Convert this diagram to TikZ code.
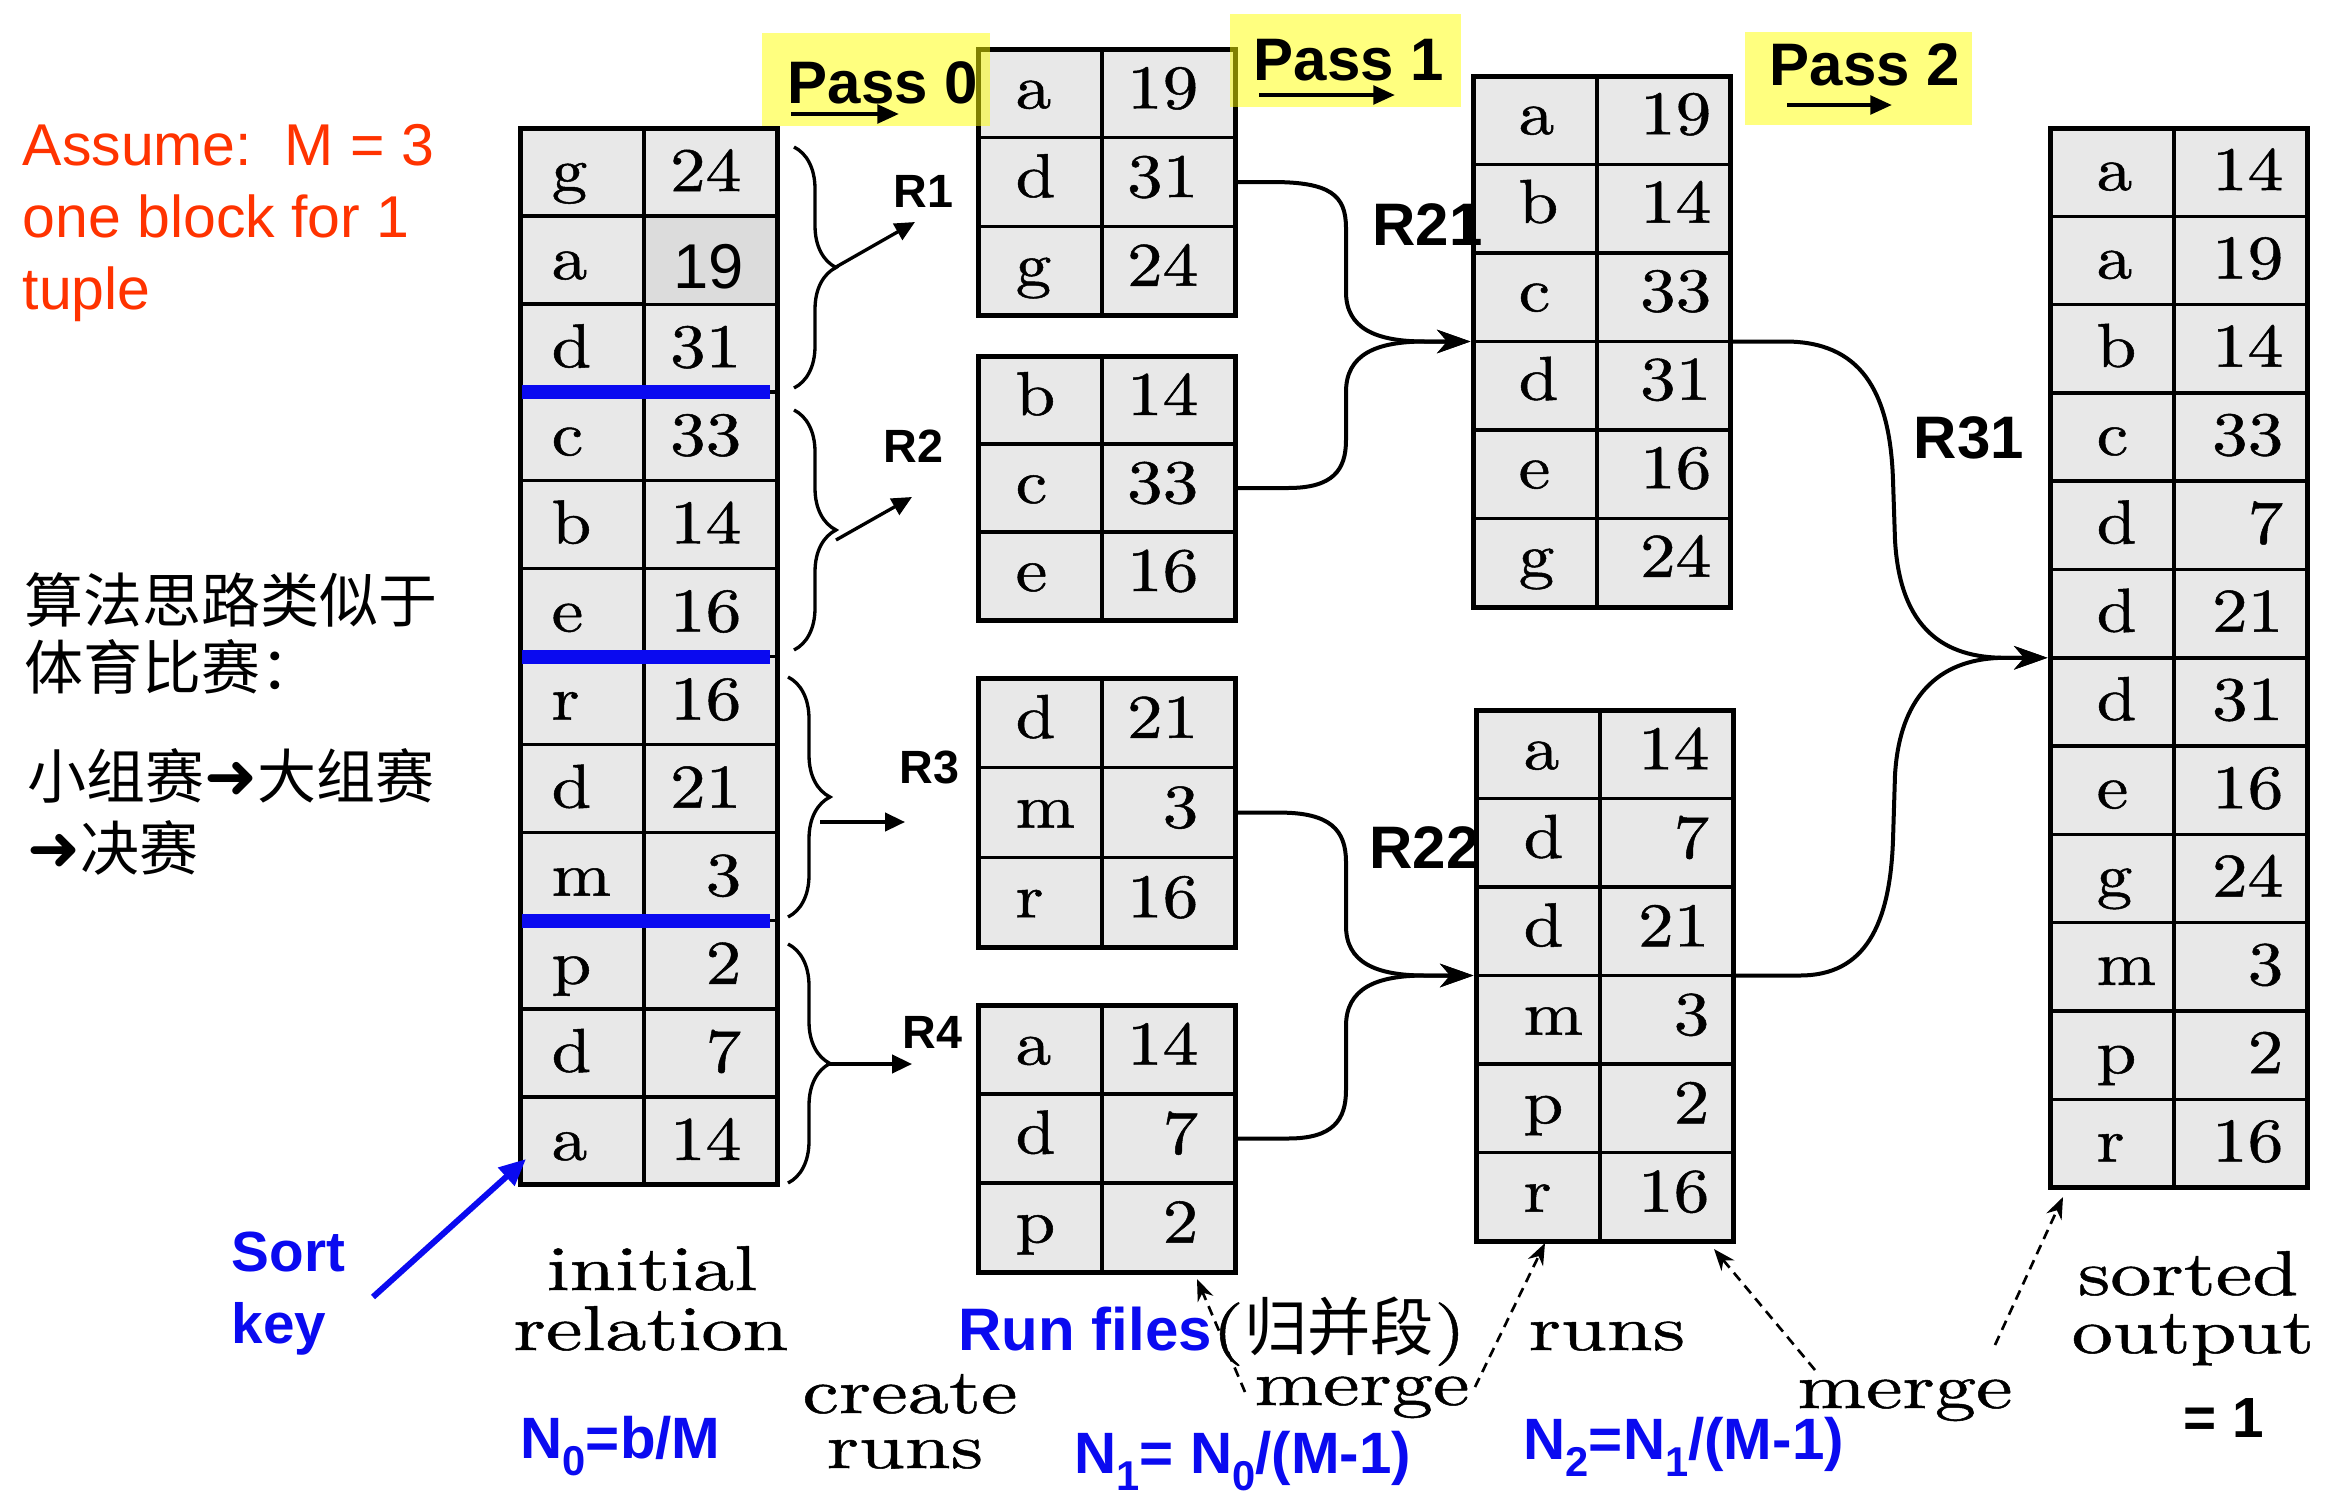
\documentclass[tikz,border=0pt]{standalone}
\usepackage{fontspec}
\usetikzlibrary{arrows.meta,decorations.pathreplacing,fit}
\newfontfamily\tabfont{lmroman10-regular.otf}[FakeStretch=1.15,FakeBold=0.8]
\newfontfamily\labfont{lmroman10-regular.otf}[FakeStretch=1.3,FakeBold=0.8]
\newfontfamily\arialfont{Liberation Sans}
\newfontfamily\cjk{Noto Sans CJK SC}
\newfontfamily\djv{DejaVu Sans}
\definecolor{cellgray}{RGB}{232,232,232}
\definecolor{cellgrayb}{RGB}{220,220,220}
\definecolor{myred}{RGB}{255,51,0}
\definecolor{myblue}{RGB}{10,10,240}
\definecolor{passyellow}{RGB}{255,255,0}
\newcommand\subs[1]{\raisebox{-0.3em}{\fontsize{12.5}{12}\selectfont #1}}
\newcommand\harr{{\djv\fontsize{19}{20}\selectfont ➜}}
% name, left x, top y, row height, letter pad, number pad, baseline offset, list
\newcommand\reltable[8]{%
  \foreach [count=\i] \l/\n in {#8} {\xdef\nrows{\i}}%
  \pgfmathsetmacro\tbbot{#3+\nrows*#4}%
  \coordinate (#1-nw) at (#2,#3);
  \coordinate (#1-se) at (#2+257,\tbbot);
  \node[tbl, fit=(#1-nw)(#1-se)] (#1) {};
  \draw[tline] (#2+124,#3) -- (#2+124,\tbbot);
  \foreach [count=\i] \l/\n in {#8} {%
    \pgfmathsetmacro\yc{#3+(\i-0.5)*#4}%
    \ifnum\i>1 \draw[tline] (#2,{#3+(\i-1)*#4}) -- (#2+257,{#3+(\i-1)*#4});\fi
    \node[cell, anchor=base west] (#1-l\i) at (#2+#5,\yc+#7) {\l};
    \node[cell, anchor=base east] (#1-n\i) at (#2+257-#6,\yc+#7) {\n};
  }%
}
\begin{document}
\begin{tikzpicture}[x=0.3pt,y=-0.3pt,
  tbl/.style={draw, line width=1.5pt, fill=cellgray, inner sep=0pt},
  tline/.style={line width=1.05pt},
  cell/.style={inner sep=0pt, font=\tabfont\fontsize{18.6}{20}\selectfont},
  conn/.style={line width=1.2pt, -{Stealth[length=10pt,width=7pt,inset=3pt]}},
  brc/.style={decorate, decoration={brace, amplitude=12.6pt}, line width=1pt},
  barr/.style={line width=1pt, -{Triangle[length=6pt,width=5.5pt]}},
  parr/.style={line width=1.3pt, -{Triangle[length=6.5pt,width=5.5pt]}},
  dsh/.style={line width=0.8pt, dash pattern=on 3pt off 2pt, -{Stealth[length=6.5pt,width=5pt]}},
  blueline/.style={myblue, line width=4.2pt},
  passbox/.style={fill=passyellow, fill opacity=0.5},
  passtxt/.style={inner sep=0pt, anchor=base, font=\arialfont\bfseries\fontsize{18}{20}\selectfont},
  rsmall/.style={inner sep=0pt, anchor=base west, font=\arialfont\bfseries\fontsize{14}{16}\selectfont},
  rbig/.style={inner sep=0pt, anchor=base west, font=\arialfont\bfseries\fontsize{18}{20}\selectfont},
  serif/.style={inner sep=0pt, anchor=base, font=\labfont\fontsize{19}{20}\selectfont},
  redtxt/.style={inner sep=0pt, anchor=base west, text=myred, font=\arialfont\fontsize{17.7}{20}\selectfont},
  cntxt/.style={inner sep=0pt, anchor=west, font=\cjk\fontsize{17.7}{20}\selectfont},
  bluetxt/.style={inner sep=0pt, anchor=base west, text=myblue, font=\arialfont\bfseries\fontsize{17.5}{20}\selectfont}
]
\fill[white] (0,0) rectangle (2337,1504);
\useasboundingbox (0,0) rectangle (2337,1504);

% tables
\reltable{Init}{520}{128}{88.08}{31}{35}{19}{g/24, a/{}, d/31, c/33, b/14, e/16, r/16, d/21, m/3, p/2, d/7, a/14}
\fill[cellgrayb] (646,218) rectangle (774.5,302.5);
\node[inner sep=0pt, anchor=base, font=\arialfont\fontsize{19}{20}\selectfont] (v19) at (709,288) {19};
\draw[blueline] (522,392.2) -- (770,392.2);
\draw[blueline] (522,656.5) -- (770,656.5);
\draw[blueline] (522,920.7) -- (770,920.7);

\reltable{R1}{978}{49}{88.7}{37}{36}{15}{a/19, d/31, g/24}
\reltable{R2}{978}{356}{88}{37}{36}{15}{b/14, c/33, e/16}
\reltable{R3}{978}{678}{89.7}{37}{36}{15}{d/21, m/3, r/16}
\reltable{R4}{978}{1005}{89}{37}{36}{15}{a/14, d/7, p/2}
\reltable{R21}{1473}{76}{88.5}{45}{18}{14}{a/19, b/14, c/33, d/31, e/16, g/24}
\reltable{R22}{1476}{710}{88.5}{47}{23}{15}{a/14, d/7, d/21, m/3, p/2, r/16}
\reltable{Final}{2050}{128}{88.3}{46}{23}{18}{a/14, a/19, b/14, c/33, d/7, d/21, d/31, e/16, g/24, m/3, p/2, r/16}

% pass boxes
\fill[passbox] (762,33) rectangle (990,126);
\fill[passbox] (1230,14) rectangle (1461,107);
\fill[passbox] (1745,32) rectangle (1972,125);
\node[passtxt] (pass0) at (883,103) {Pass 0};
\node[passtxt] (pass1) at (1349,80) {Pass 1};
\node[passtxt] (pass2) at (1865,85) {Pass 2};
\coordinate (p0a) at (791,114); \coordinate (p0b) at (899,114);
\coordinate (p1a) at (1259,95); \coordinate (p1b) at (1395,95);
\coordinate (p2a) at (1787,105); \coordinate (p2b) at (1892,105);
\draw[parr] (p0a) -- (p0b);
\draw[parr] (p1a) -- (p1b);
\draw[parr] (p2a) -- (p2b);

% braces
\coordinate (b1t) at (794,147); \coordinate (b1b) at (794,388);
\coordinate (b2t) at (794,410); \coordinate (b2b) at (794,650);
\coordinate (b3t) at (788,677); \coordinate (b3b) at (788,917);
\coordinate (b4t) at (788,944); \coordinate (b4b) at (788,1183);
\draw[brc] (b1t) -- (b1b);
\draw[brc] (b2t) -- (b2b);
\draw[brc] (b3t) -- (b3b);
\draw[brc] (b4t) -- (b4b);
\coordinate (a1s) at (836,267); \coordinate (a1e) at (915,222);
\coordinate (a2s) at (836,540); \coordinate (a2e) at (912,497);
\coordinate (a3s) at (820,822); \coordinate (a3e) at (905,822);
\coordinate (a4s) at (826,1064); \coordinate (a4e) at (912,1064);
\draw[barr] (a1s) -- (a1e);
\draw[barr] (a2s) -- (a2e);
\draw[barr] (a3s) -- (a3e);
\draw[barr] (a4s) -- (a4e);
\node[rsmall] (lR1) at (893,207) {R1};
\node[rsmall] (lR2) at (883,462) {R2};
\node[rsmall] (lR3) at (899,783) {R3};
\node[rsmall] (lR4) at (902,1048) {R4};

% merge connectors
\draw[conn] (R1.east) -- (1272,182) .. controls (1330,182) and (1346,195) .. (1346,228) -- (1346,292) .. controls (1346,328) and (1375,341.5) .. (1425,341.5) -- (R21.west);
\draw[conn] (R2.east) -- (1288,488) .. controls (1333,488) and (1346,470) .. (1346,440) -- (1346,392) .. controls (1346,355) and (1375,341.5) .. (1425,341.5) -- (R21.west);
\draw[conn] (R3.east) -- (1280,812.6) .. controls (1330,812.6) and (1346,830) .. (1346,862) -- (1346,926) .. controls (1346,962) and (1375,975.5) .. (1425,975.5) -- (R22.west);
\draw[conn] (R4.east) -- (1288,1138.5) .. controls (1333,1138.5) and (1346,1120) .. (1346,1090) -- (1346,1026) .. controls (1346,989) and (1375,975.5) .. (1425,975.5) -- (R22.west);
\draw[conn] (R21.east) -- (1785,341.5) .. controls (1860,341.5) and (1890,390) .. (1893,480) -- (1895,540) .. controls (1900,630) and (1945,657.8) .. (2005,657.8) -- (Final.west);
\draw[conn] (R22.east) -- (1800,975.5) .. controls (1865,975.5) and (1890,925) .. (1893,840) -- (1895,775) .. controls (1900,690) and (1945,657.8) .. (2005,657.8) -- (Final.west);
\node[rbig] (lR21) at (1372,245) {R21};
\node[rbig] (lR22) at (1369,868) {R22};
\node[rbig] (lR31) at (1913,458) {R31};

% left texts
\node[redtxt] (as1) at (22,165) {Assume:~~M = 3};
\node[redtxt] (as2) at (22,237) {one block for 1};
\node[redtxt] (as3) at (22,309) {tuple};
\node[cntxt] (cn1) at (24,600) {算法思路类似于};
\node[cntxt] (cn2) at (24,667) {体育比赛：};
\node[cntxt] (cn3) at (27,776) {小组赛\harr 大组赛};
\node[cntxt] (cn4) at (27,848) {\harr 决赛};

% sort key
\node[bluetxt, font=\arialfont\bfseries\fontsize{17}{20}\selectfont] (sort) at (231,1271) {Sort};
\node[bluetxt, font=\arialfont\bfseries\fontsize{17}{20}\selectfont] (key) at (231,1343) {key};
\coordinate (skA) at (373,1297); \coordinate (skB) at (526,1159);
\draw[myblue, line width=1.8pt, -{Triangle[length=8pt,width=7pt]}] (skA) -- (skB);

% bottom labels
\node[serif] (init1) at (652,1290) {initial};
\node[serif] (init2) at (651,1350) {relation};
\node[serif] (cr1) at (910,1413) {create};
\node[serif] (cr2) at (905,1468) {runs};
\node[serif] (mg1) at (1362,1405) {merge};
\node[serif] (runs2) at (1607,1350) {runs};
\node[serif] (mg2) at (1905,1408) {merge};
\node[serif] (so1) at (2188,1295) {sorted};
\node[serif] (so2) at (2193,1353) {output};
\node[inner sep=0pt, anchor=base west] (runfiles) at (958,1350) {{\arialfont\bfseries\fontsize{18}{20}\selectfont\color{myblue}Run files}{\labfont\fontsize{19}{20}\selectfont(}{\cjk\fontsize{19}{20}\selectfont 归并段}{\labfont\fontsize{19}{20}\selectfont)}};
\node[bluetxt] (n0) at (520,1458) {N\subs{0}=b/M};
\node[bluetxt] (n1) at (1074,1473) {N\subs{1}= N\subs{0}/(M-1)};
\node[bluetxt] (n2) at (1523,1459) {N\subs{2}=N\subs{1}/(M-1)};
\node[inner sep=0pt, anchor=base west, font=\arialfont\bfseries\fontsize{17}{20}\selectfont] (eq1) at (2183,1437) {= 1};

% dashed arrows
\coordinate (d1s) at (1245,1392); \coordinate (d1e) at (1197,1279);
\coordinate (d2s) at (1475,1387); \coordinate (d2e) at (1545,1243);
\coordinate (d3s) at (1815,1370); \coordinate (d3e) at (1714,1249);
\coordinate (d4s) at (1995,1345); \coordinate (d4e) at (2063,1197);
\draw[dsh] (d1s) -- (d1e);
\draw[dsh] (d2s) -- (d2e);
\draw[dsh] (d3s) -- (d3e);
\draw[dsh] (d4s) -- (d4e);
\end{tikzpicture}
\end{document}
